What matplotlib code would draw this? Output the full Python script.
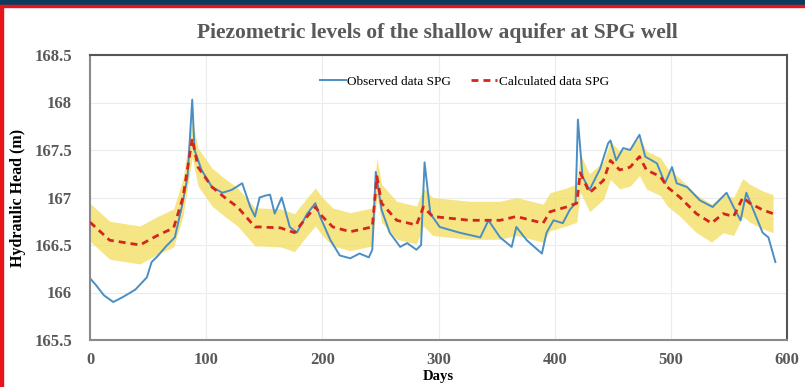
import numpy as np
import matplotlib
matplotlib.use("Agg")
import matplotlib.pyplot as plt
from matplotlib.lines import Line2D

# observed heads (days, m)
obs_days = [0, 5, 12, 20, 28, 39, 49, 53, 58, 65, 73, 79, 84, 88, 90, 96, 105, 114,
            122, 131, 138, 142, 146, 151, 155, 159, 165, 172, 178, 187, 194, 198, 207,
            215, 224, 232, 240, 243, 246, 251, 258, 267, 273, 281, 285, 288, 293, 301,
            318, 336, 343, 353, 363, 367, 376, 389, 393, 399, 407, 413, 418, 420, 424,
            430, 439, 446, 448, 453, 459, 465, 473, 478, 488, 495, 501, 505, 514, 525,
            536, 548, 554, 560, 565, 571, 579, 584, 590]
obs_head = [166.15, 166.08, 165.97, 165.90, 165.95, 166.03, 166.16, 166.32, 166.38, 166.48,
            166.58, 166.90, 167.22, 168.03, 167.50, 167.29, 167.11, 167.05, 167.08, 167.15,
            166.90, 166.80, 167.00, 167.02, 167.03, 166.83, 167.00, 166.69, 166.63, 166.83,
            166.94, 166.80, 166.55, 166.39, 166.36, 166.41, 166.37, 166.45, 167.27, 166.87,
            166.63, 166.48, 166.52, 166.45, 166.50, 167.37, 166.83, 166.69, 166.63, 166.58,
            166.76, 166.58, 166.48, 166.69, 166.55, 166.41, 166.63, 166.76, 166.73, 166.87,
            166.94, 167.82, 167.22, 167.08, 167.30, 167.57, 167.60, 167.39, 167.52, 167.50,
            167.66, 167.43, 167.36, 167.15, 167.32, 167.15, 167.11, 166.97, 166.90, 167.05,
            166.90, 166.76, 167.05, 166.87, 166.63, 166.58, 166.32]

# calculated heads
calc_days = [0, 17, 43, 58, 72, 80, 88, 93, 105, 116, 127, 142, 146, 164, 176, 187, 194,
             200, 209, 224, 243, 247, 251, 264, 281, 287, 295, 327, 353, 367, 390, 396,
             410, 419, 422, 430, 442, 448, 456, 465, 473, 479, 491, 497, 508, 522, 535,
             545, 554, 562, 568, 579, 588]
calc_head = [166.74, 166.55, 166.50, 166.60, 166.68, 167.00, 167.62, 167.32, 167.11, 167.00,
             166.90, 166.69, 166.69, 166.68, 166.63, 166.80, 166.90, 166.80, 166.69, 166.64,
             166.69, 167.22, 166.94, 166.76, 166.71, 166.90, 166.80, 166.76, 166.76, 166.80,
             166.73, 166.85, 166.90, 166.94, 167.26, 167.05, 167.18, 167.39, 167.29, 167.32,
             167.43, 167.29, 167.22, 167.11, 167.00, 166.83, 166.73, 166.83, 166.80, 167.00,
             166.94, 166.87, 166.83]
band = 0.2  # uncertainty around calculated values

x_ticks = [0, 100, 200, 300, 400, 500, 600]
y_ticks = [165.5, 166, 166.5, 167, 167.5, 168, 168.5]
y_labels = ["165.5", "166", "166.5", "167", "167.5", "168", "168.5"]

serif = "Liberation Serif"
gray = "#595959"

fig = plt.figure(figsize=(8.05, 3.87), dpi=100)
fig.patch.set_facecolor("white")

# screenshot frame: dark bar on top, red lines
fig.patches.append(plt.Rectangle((0, 1 - 5 / 387), 1, 5 / 387, transform=fig.transFigure,
                                 color="#0b3a5c", zorder=0))
fig.patches.append(plt.Rectangle((0, 1 - 7 / 387), 1, 2 / 387, transform=fig.transFigure,
                                 color="#e8141c", zorder=0))
fig.patches.append(plt.Rectangle((0, 0), 3 / 805, 1 - 5 / 387, transform=fig.transFigure,
                                 color="#e8141c", zorder=0))

ax = fig.add_axes([90 / 805, 1 - 340 / 387, 697 / 805, 285 / 387])

calc = np.array(calc_head)
ax.fill_between(calc_days, calc - band, calc + band, color="#f3db52", alpha=0.7,
                lw=0, zorder=1)
ax.plot(obs_days, obs_head, color="#4a8fc4", lw=1.4, zorder=2)
ax.plot(calc_days, calc_head, color="#d3261e", lw=2, ls=(0, (2.5, 1.8)), zorder=3)

ax.set_xlim(0, 600)
ax.set_ylim(165.5, 168.5)
ax.set_xticks(x_ticks)
ax.set_yticks(y_ticks)
ax.set_yticklabels(y_labels)
ax.grid(True, color="#ececec", lw=0.8)
ax.set_axisbelow(True)
ax.tick_params(length=0, labelsize=12, labelcolor=gray)
ax.tick_params(axis="y", pad=13)
ax.tick_params(axis="x", pad=9)
for lab in ax.get_xticklabels() + ax.get_yticklabels():
    lab.set_fontfamily(serif)
    lab.set_fontweight("bold")
for s in ax.spines.values():
    s.set_linewidth(1.5)
ax.spines["left"].set_color("#8a8a8a")
ax.spines["bottom"].set_color("#8a8a8a")
ax.spines["top"].set_color("#555555")
ax.spines["right"].set_color("#555555")

ax.set_xlabel("Days", fontfamily=serif, fontweight="bold", fontsize=10.5, labelpad=1)
ax.set_ylabel("Hydraulic Head (m)", fontfamily=serif, fontweight="bold", fontsize=11.5,
              labelpad=6)
fig.text(0.543, 1 - 33 / 387, "Piezometric levels of the shallow aquifer at SPG well",
         ha="center", va="center", fontfamily=serif, fontweight="bold", fontsize=15.5,
         color=gray)

handles = [Line2D([], [], color="#4a8fc4", lw=1.4),
           Line2D([], [], color="#d3261e", lw=2, ls=(0, (2.5, 1.8)))]
ax.legend(handles, ["Observed data SPG", "Calculated data SPG"], loc="upper center",
          bbox_to_anchor=(0.537, 0.97), ncol=2, frameon=False, handlelength=2,
          handletextpad=0.1, columnspacing=1.5,
          prop={"family": serif, "size": 9.5})

fig.savefig("out.png", dpi=100)
